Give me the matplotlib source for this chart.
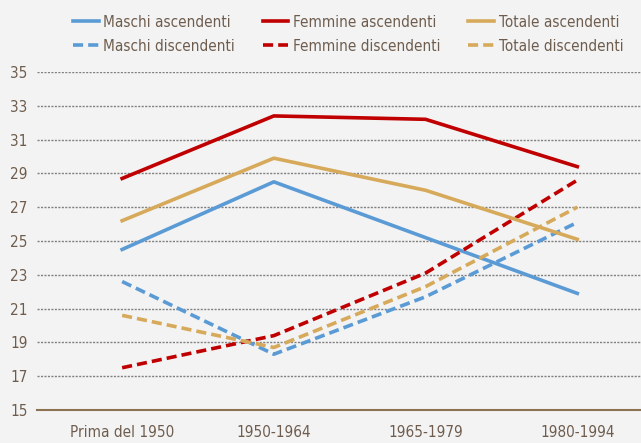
import matplotlib
matplotlib.use("Agg")
import matplotlib.pyplot as plt

categories = ["Prima del 1950", "1950-1964", "1965-1979", "1980-1994"]

maschi_asc = [24.5, 28.5, 25.2, 21.9]
femmine_asc = [28.7, 32.4, 32.2, 29.4]
totale_asc = [26.2, 29.9, 28.0, 25.1]
maschi_disc = [22.6, 18.3, 21.7, 26.1]
femmine_disc = [17.5, 19.4, 23.1, 28.6]
totale_disc = [20.6, 18.7, 22.3, 27.0]

yticks = [15, 17, 19, 21, 23, 25, 27, 29, 31, 33, 35]

blue = "#5b9bd5"
red = "#c00000"
gold = "#d6aa5a"
text_col = "#6e5d4e"

# condensed look like the original
plt.rcParams["font.family"] = ["DejaVu Sans"]
plt.rcParams["font.stretch"] = "condensed"

fig = plt.figure(figsize=(6.41, 4.43), dpi=100)
fig.patch.set_facecolor("#f3f3f3")
ax = fig.add_axes([0.058, 0.0745, 0.942, 0.763])
ax.set_facecolor("#f3f3f3")

x = list(range(len(categories)))
lw = 2.6
dash = (0, (2.8, 1.4))
ax.plot(x, maschi_asc, color=blue, lw=lw, label="Maschi ascendenti")
ax.plot(x, maschi_disc, color=blue, lw=lw, ls=dash, label="Maschi discendenti")
ax.plot(x, femmine_asc, color=red, lw=lw, label="Femmine ascendenti")
ax.plot(x, femmine_disc, color=red, lw=lw, ls=dash, label="Femmine discendenti")
ax.plot(x, totale_asc, color=gold, lw=lw, label="Totale ascendenti")
ax.plot(x, totale_disc, color=gold, lw=lw, ls=dash, label="Totale discendenti")

ax.set_xlim(-0.56, 3.42)
ax.set_ylim(15, 35)
ax.set_yticks(yticks)
ax.set_xticks(x)
ax.set_xticklabels(categories)
ax.tick_params(axis="both", length=0, labelsize=11, colors=text_col)
ax.tick_params(axis="y", pad=7)
ax.tick_params(axis="x", pad=11)

ax.grid(axis="y", color="#808080", ls=(0, (1.5, 1)), lw=1)
ax.set_axisbelow(True)
for s in ["top", "right", "left"]:
    ax.spines[s].set_visible(False)
ax.spines["bottom"].set_color("#8c7152")
ax.spines["bottom"].set_linewidth(1.5)

leg = fig.legend(loc="upper left", bbox_to_anchor=(0.092, 0.998), ncol=3, frameon=False,
                 fontsize=11, handlelength=1.7, handletextpad=0.3, columnspacing=1.8,
                 labelspacing=0.6)
for t in leg.get_texts():
    t.set_color(text_col)

fig.savefig("out.png", dpi=100, facecolor=fig.get_facecolor())
